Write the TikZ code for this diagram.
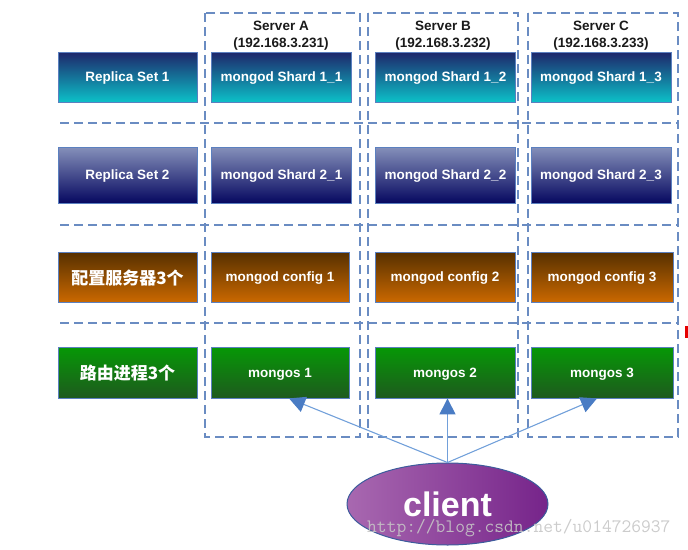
\documentclass[tikz,border=0pt]{standalone}
\usepackage{fontspec}
\setmainfont{Liberation Sans}
\newfontfamily\cjk{Noto Sans CJK SC}
\usetikzlibrary{shapes.geometric,arrows.meta,calc}
\definecolor{dashc}{HTML}{6A8CC2}
\definecolor{boxedge}{HTML}{5B80C0}
\definecolor{rAt}{HTML}{1E266A}
\definecolor{rAb}{HTML}{0CC0C8}
\definecolor{rBt}{HTML}{8590BA}
\definecolor{rBb}{HTML}{060860}
\definecolor{rCt}{HTML}{563000}
\definecolor{rCb}{HTML}{CA6800}
\definecolor{rDt}{HTML}{069806}
\definecolor{rDb}{HTML}{1E5A1E}
\definecolor{arrowc}{HTML}{72A0DA}
\definecolor{arrowh}{HTML}{4A7CC4}
\definecolor{cliL}{HTML}{A868B0}
\definecolor{cliR}{HTML}{76248A}
\definecolor{cliE}{HTML}{3C5C9C}
\definecolor{txtc}{HTML}{1A1A1A}
\begin{document}
\begin{tikzpicture}[x=1pt,y=-1pt,
  colbox/.style={draw=dashc, line width=1.2pt, dash pattern=on 9pt off 5pt},
  rowline/.style={draw=dashc, line width=1.2pt, dash pattern=on 9pt off 5pt},
  box/.style={draw=boxedge, line width=0.8pt, inner sep=0pt, text=white, text depth=0pt,
    font=\bfseries\fontsize{13.5}{16}\selectfont, minimum width=140pt},
  rowA/.style={box, minimum height=50pt, top color=rAt, bottom color=rAb},
  rowB/.style={box, minimum height=56pt, top color=rBt, bottom color=rBb},
  rowC/.style={box, minimum height=50pt, top color=rCt, bottom color=rCb},
  rowD/.style={box, minimum height=51pt, top color=rDt, bottom color=rDb},
  cjklabel/.style={font=\cjk\bfseries\fontsize{17}{20}\selectfont},
  head/.style={text=txtc, font=\bfseries\fontsize{13.5}{16}\selectfont, inner sep=0pt},
  conn/.style={draw=arrowc, line width=1.1pt, -{Triangle[width=16pt,length=16pt,color=arrowh]}}
]
\useasboundingbox (0,0) rectangle (688,549);
% server columns
\draw[colbox] (205,13) rectangle (360,437);
\draw[colbox] (368,13) rectangle (518,437);
\draw[colbox] (528,13) rectangle (678,437);
% row separators
\draw[rowline] (60,123) -- (679,123);
\draw[rowline] (60,225) -- (679,225);
\draw[rowline] (60,323) -- (679,323);
% headers
\node[head] (hA) at (281,26) {Server A};
\node[head] (iA) at (281,44) {(192.168.3.231)};
\node[head] (hB) at (443,26) {Server B};
\node[head] (iB) at (443,44) {(192.168.3.232)};
\node[head] (hC) at (601,26) {Server C};
\node[head] (iC) at (601,44) {(192.168.3.233)};
% row 1
\node[rowA, minimum width=139pt] (l1) at (127.5,77) {Replica Set 1};
\node[rowA] (s11) at (281.5,77) {mongod Shard 1\_1};
\node[rowA] (s12) at (445.5,77) {mongod Shard 1\_2};
\node[rowA] (s13) at (601,77) {mongod Shard 1\_3};
% row 2
\node[rowB, minimum width=139pt] (l2) at (127.5,175) {Replica Set 2};
\node[rowB] (s21) at (281.5,175) {mongod Shard 2\_1};
\node[rowB] (s22) at (445.5,175) {mongod Shard 2\_2};
\node[rowB] (s23) at (601,175) {mongod Shard 2\_3};
% row 3
\node[rowC, minimum width=139pt, cjklabel] (l3) at (127.5,277) {配置服务器3个};
\node[rowC, minimum width=138pt] (c1) at (280,277) {mongod config 1};
\node[rowC] (c2) at (445,277) {mongod config 2};
\node[rowC, minimum width=142pt] (c3) at (602,277) {mongod config 3};
% row 4
\node[rowD, minimum width=139pt, cjklabel] (l4) at (127.5,372.5) {路由进程3个};
\node[rowD, minimum width=138pt] (m1) at (280,372.5) {mongos 1};
\node[rowD] (m2) at (445,372.5) {mongos 2};
\node[rowD, minimum width=142pt] (m3) at (602,372.5) {mongos 3};
% client
\node[ellipse, draw=cliE, line width=1pt, minimum width=201pt, minimum height=82pt,
  inner sep=0pt, left color=cliL, right color=cliR, text=white,
  font=\bfseries\fontsize{34}{40}\selectfont] (cl) at (447.5,504) {client};
% connectors
\draw[conn] (cl.north) -- ($(m1.south west)!0.565!(m1.south east)$);
\draw[conn] (cl.north) -- (cl.north |- m2.south);
\draw[conn] (cl.north) -- ($(m3.south west)!0.465!(m3.south east)$);
% watermark
\node[anchor=west, inner sep=0pt, text=gray!45, opacity=0.9,
  font=\ttfamily\fontsize{19}{22}\selectfont] (wm) at (367,528) {http://blog.csdn.net/u014726937};
% red mark at right edge
\fill[red!90!black] (685,326) rectangle (688,338);
\end{tikzpicture}
\end{document}
